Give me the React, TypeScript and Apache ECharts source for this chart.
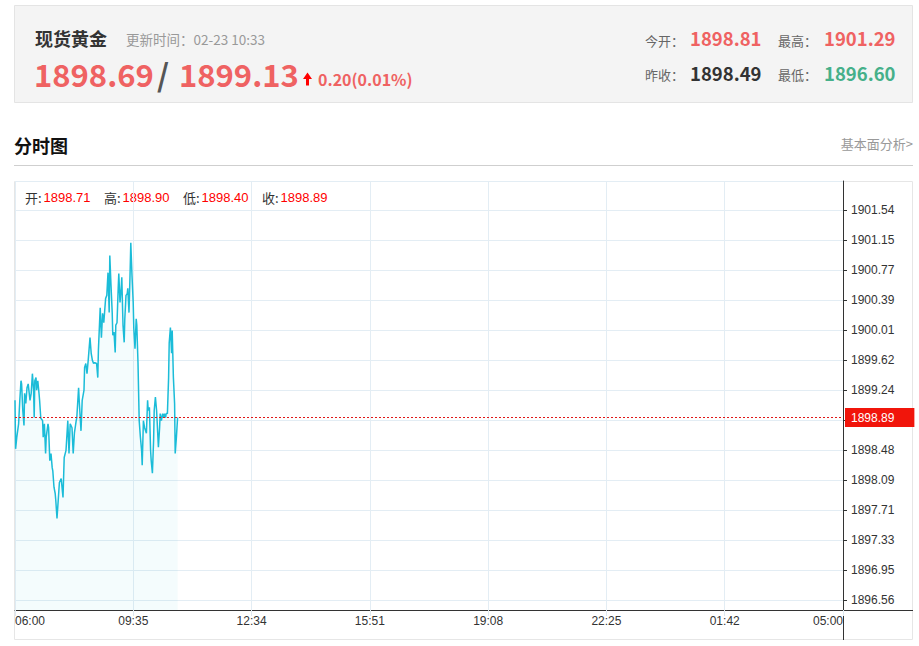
import React, { useEffect, useRef } from 'react';
import * as echarts from 'echarts';

// ---------- data ----------
const quoteName = '现货黄金';
const updateLabel = '更新时间：';
const updateTime = '02-23 10:33';
const bidPrice = '1898.69';
const askPrice = '1899.13';
const changeText = '0.20(0.01%)';
const statLabels = ['今开：', '最高：', '昨收：', '最低：'];
const statValues = ['1898.81', '1901.29', '1898.49', '1896.60'];
const ohlcNames = ['开:', '高:', '低:', '收:'];
const ohlcValues = ['1898.71', '1898.90', '1898.40', '1898.89'];
const lastPrice = 1898.89;

const xTickLabels = ['06:00', '09:35', '12:34', '15:51', '19:08', '22:25', '01:42', '05:00'];
const yTickLabels = ['1896.56', '1896.95', '1897.33', '1897.71', '1898.09', '1898.48', '1898.86', '1899.24', '1899.62', '1900.01', '1900.39', '1900.77', '1901.15', '1901.54'];
const totalMinutes = 1380; // 06:00 -> 05:00 next day

// minutes after 06:00
const minutes = [
  0, 1, 3, 6, 8, 10, 11, 13, 15, 16,
  18, 20, 22, 25, 27, 29, 31, 32, 33, 35,
  36, 38, 40, 41, 43, 46, 47, 49, 51, 52,
  55, 56, 58, 60, 62, 63, 65, 67, 68, 70,
  72, 74, 77, 80, 82, 85, 88, 90, 92, 95,
  97, 99, 102, 103, 106, 107, 110, 112, 115, 116,
  118, 120, 122, 125, 127, 129, 131, 133, 136, 138,
  139, 142, 144, 146, 148, 151, 153, 155, 157, 158,
  160, 162, 163, 165, 167, 168, 170, 172, 173, 175,
  177, 178, 180, 182, 183, 185, 187, 188, 190, 192,
  193, 195, 197, 198, 200, 202, 203, 205, 207, 209,
  211, 212, 214, 216, 219, 221, 222, 224, 226, 227,
  229, 231, 232, 234, 236, 237, 239, 241, 242, 244,
  246, 247, 249, 251, 252, 254, 256, 257, 259, 261,
  262, 264, 266, 267, 269, 271,
];
const prices = [
  1899.11, 1898.49, 1898.64, 1898.81, 1899.11, 1899.36, 1899.32, 1898.98, 1898.79, 1899.20,
  1899.07, 1899.27, 1899.32, 1899.11, 1899.20, 1899.45, 1899.24, 1898.89, 1899.36, 1899.40,
  1899.24, 1899.36, 1899.20, 1899.11, 1898.88, 1898.85, 1898.64, 1898.81, 1898.43, 1898.64,
  1898.81, 1898.76, 1898.34, 1898.43, 1898.25, 1898.21, 1898.00, 1897.92, 1897.83, 1897.60,
  1897.83, 1898.06, 1898.11, 1897.87, 1898.38, 1898.47, 1898.85, 1898.43, 1898.81, 1898.76,
  1898.43, 1898.69, 1898.85, 1898.89, 1899.27, 1899.11, 1898.72, 1899.11, 1899.24, 1899.53,
  1899.58, 1899.45, 1899.62, 1899.91, 1899.71, 1899.62, 1899.58, 1899.59, 1899.58, 1899.40,
  1899.75, 1900.29, 1899.91, 1900.22, 1900.10, 1900.41, 1900.45, 1900.74, 1900.23, 1900.96,
  1900.58, 1900.23, 1899.94, 1899.98, 1899.72, 1900.07, 1900.10, 1900.54, 1900.73, 1900.36,
  1900.54, 1900.68, 1900.07, 1899.85, 1900.15, 1900.45, 1900.47, 1900.54, 1900.23, 1900.79,
  1901.12, 1900.70, 1900.36, 1900.03, 1899.77, 1900.15, 1900.07, 1899.59, 1898.85, 1898.64,
  1898.47, 1898.28, 1898.85, 1898.76, 1898.69, 1899.11, 1898.98, 1899.02, 1898.47, 1898.34,
  1898.18, 1898.60, 1898.98, 1899.15, 1898.98, 1898.98, 1898.51, 1898.76, 1898.94, 1898.85,
  1898.94, 1898.89, 1898.94, 1898.89, 1898.94, 1898.94, 1899.40, 1899.84, 1900.04, 1899.71,
  1900.00, 1899.40, 1899.07, 1898.43, 1898.64, 1898.89,
];

// ---------- styling ----------
const CJK = '"Microsoft YaHei", "Noto Sans CJK SC", sans-serif';
const AXF = 'Tahoma, "Liberation Sans", Arial, sans-serif';
const RED = '#ef6262';
const GREEN = '#46b08a';
const GRID_LINE = '#e3edf4';

// y scale: tick step per 30px row
const tickBase = Number(yTickLabels[0]);
const tickStep = (Number(yTickLabels[yTickLabels.length - 1]) - tickBase) / (yTickLabels.length - 1);
const ROW = 30;
const G_TOP = 181;
const G_TICK0 = 600; // pixel of first tick
const G_BOTTOM = 610;
const G_LEFT = 15;
const G_RIGHT = 843;
const perPx = tickStep / ROW;
const yMin = tickBase - (G_BOTTOM - G_TICK0) * perPx;
const yMax = tickBase + (G_TICK0 - G_TOP) * perPx;

function txt(x: number, y: number, text: string, font: string, fill: string, align = 'left') {
  return {
    type: 'text',
    x,
    y,
    silent: true,
    style: { text, font, fill, align, verticalAlign: 'middle' },
  };
}

function buildOption() {
  const lineData = minutes.map((m, i) => [m, prices[i]]);
  const xInterval = totalMinutes / (xTickLabels.length - 1);

  const graphics: any[] = [
    {
      type: 'rect',
      shape: { x: 14.5, y: 5.5, width: 898, height: 97 },
      style: { fill: '#f4f4f4', stroke: '#e4e4e4', lineWidth: 1 },
      silent: true,
      z: -10,
    },
    txt(35, 38, quoteName, `bold 18px ${CJK}`, '#333'),
    txt(126, 38.5, updateLabel + updateTime, `13.5px ${CJK}`, '#999'),
    txt(34, 73, bidPrice, `bold 31px ${CJK}`, RED),
    txt(157, 73, '/', `bold 31px ${CJK}`, '#555'),
    txt(179, 73, askPrice, `bold 31px ${CJK}`, RED),
    {
      type: 'polygon',
      silent: true,
      shape: {
        points: [[303, 79], [307.5, 72.5], [312, 79], [309, 79], [309, 85.5], [306, 85.5], [306, 79]],
      },
      style: { fill: '#ff0000' },
    },
    txt(318, 78.5, changeText, `bold 16px ${CJK}`, RED),
    txt(645, 40, statLabels[0], `13px ${CJK}`, '#666'),
    txt(690, 38, statValues[0], `bold 18.5px ${CJK}`, RED),
    txt(778, 40, statLabels[1], `13px ${CJK}`, '#666'),
    txt(824, 38, statValues[1], `bold 18.5px ${CJK}`, RED),
    txt(645, 74, statLabels[2], `13px ${CJK}`, '#666'),
    txt(690, 72.5, statValues[2], `bold 18.5px ${CJK}`, '#333'),
    txt(778, 74, statLabels[3], `13px ${CJK}`, '#666'),
    txt(824, 72.5, statValues[3], `bold 18.5px ${CJK}`, GREEN),
    txt(14, 145, '分时图', `bold 18px ${CJK}`, '#111'),
    txt(913, 143, '基本面分析>', `13px ${CJK}`, '#999', 'right'),
    {
      type: 'line',
      silent: true,
      shape: { x1: 14, y1: 165.5, x2: 913, y2: 165.5 },
      style: { stroke: '#cfcfcf', lineWidth: 1 },
    },
    {
      type: 'rect',
      silent: true,
      shape: { x: 14.5, y: 181.5, width: 898, height: 458 },
      style: { fill: 'none', stroke: '#e6e6e6', lineWidth: 1 },
      z: 0,
    },
    {
      type: 'line',
      silent: true,
      shape: { x1: G_RIGHT + 0.5, y1: G_BOTTOM, x2: G_RIGHT + 0.5, y2: 640 },
      style: { stroke: '#333', lineWidth: 1 },
    },
    {
      type: 'line',
      silent: true,
      shape: { x1: G_RIGHT, y1: G_BOTTOM + 0.5, x2: 913, y2: G_BOTTOM + 0.5 },
      style: { stroke: '#333', lineWidth: 1 },
    },
  ];

  ohlcNames.forEach((n, i) => {
    const x = 25 + i * 79;
    graphics.push(txt(x, 197.5, n, `13px ${CJK}`, '#333'));
    graphics.push(txt(x + 18.5, 197.5, ohlcValues[i], `13px ${AXF}`, '#ff0000'));
  });

  return {
    animation: false,
    backgroundColor: '#ffffff',
    grid: [
      { left: G_LEFT, top: G_TOP, width: G_RIGHT - G_LEFT, height: G_BOTTOM - G_TOP },
      { left: G_LEFT, top: G_TOP, width: G_RIGHT - G_LEFT, height: G_TICK0 - G_TOP },
    ],
    xAxis: [
      {
        type: 'value',
        gridIndex: 0,
        min: 0,
        max: totalMinutes,
        interval: xInterval,
        axisLine: { onZero: false, lineStyle: { color: '#333', width: 1 } },
        axisTick: { show: true, length: 6, lineStyle: { color: '#dfe9f0' } },
        splitLine: { show: true, lineStyle: { color: GRID_LINE, width: 1 } },
        axisLabel: {
          color: '#333',
          fontSize: 12,
          fontFamily: AXF,
          margin: 5,
          showMinLabel: true,
          showMaxLabel: true,
          formatter: (v: number) => {
            const idx = Math.round(v / xInterval);
            const t = xTickLabels[idx] ?? '';
            if (idx === 0) return `{first|${t}}`;
            if (idx === xTickLabels.length - 1) return `{last|${t}}`;
            return t;
          },
          rich: {
            first: { padding: [0, 0, 0, 30], fontSize: 12, fontFamily: AXF, color: '#333' },
            last: { padding: [0, 30, 0, 0], fontSize: 12, fontFamily: AXF, color: '#333' },
          },
        },
      },
      { type: 'value', gridIndex: 1, show: false, min: 0, max: 1 },
    ],
    yAxis: [
      {
        type: 'value',
        gridIndex: 0,
        position: 'right',
        min: yMin,
        max: yMax,
        axisLine: { show: true, onZero: false, lineStyle: { color: '#333', width: 1 } },
        axisTick: { show: false },
        axisLabel: { show: false },
        splitLine: { show: false },
      },
      {
        type: 'value',
        gridIndex: 1,
        position: 'right',
        min: 0,
        max: (G_TICK0 - G_TOP) / ROW,
        interval: 1,
        axisLine: { show: false, onZero: false },
        axisTick: { show: true, length: 4, lineStyle: { color: '#333' } },
        splitLine: { show: true, lineStyle: { color: GRID_LINE, width: 1 } },
        axisLabel: {
          color: '#333',
          fontSize: 12,
          fontFamily: AXF,
          margin: 8,
          showMaxLabel: false,
          formatter: (v: number) => {
            if (Math.abs(v - Math.round(v)) > 1e-6) return '';
            const i = Math.round(v);
            // the tick hidden under the last-price marker
            if (Math.abs(Number(yTickLabels[i]) - lastPrice) < tickStep / 2) return '';
            return yTickLabels[i] ?? '';
          },
        },
      },
    ],
    series: [
      {
        type: 'line',
        xAxisIndex: 0,
        yAxisIndex: 0,
        data: lineData,
        showSymbol: false,
        symbol: 'none',
        lineStyle: { color: '#1bbcd8', width: 1.5 },
        itemStyle: { color: '#1bbcd8' },
        areaStyle: { color: 'rgba(27,188,216,0.07)', origin: 'start' },
        z: 3,
        markLine: {
          silent: true,
          symbol: 'none',
          animation: false,
          lineStyle: { color: '#e01818', type: [2, 2], width: 1 },
          label: {
            show: true,
            position: 'end',
            distance: 2,
            formatter: lastPrice.toFixed(2),
            color: '#ffffff',
            backgroundColor: '#f1150b',
            fontSize: 12,
            fontFamily: AXF,
            lineHeight: 13,
            padding: [3, 20, 3, 6],
          },
          data: [{ yAxis: lastPrice }],
        },
      },
    ],
    graphic: graphics,
  };
}

export default function App() {
  const ref = useRef<HTMLDivElement>(null);
  useEffect(() => {
    if (!ref.current) return;
    const chart = echarts.init(ref.current, null, { renderer: 'svg' });
    chart.setOption(buildOption() as any);
    return () => chart.dispose();
  }, []);
  return (
    <div
      ref={ref}
      style={{ position: 'absolute', left: 0, top: 0, width: 919, height: 646, background: '#fff' }}
    />
  );
}
